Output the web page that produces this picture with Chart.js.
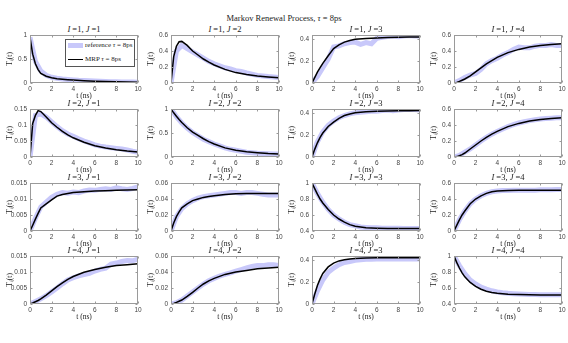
<!DOCTYPE html>
<html lang="en">
<head>
  <meta charset="UTF-8" />
  <title>Markov Renewal Process</title>
  <script src="https://cdn.jsdelivr.net/npm/chart.js"></script>
  <style>
    body {
      margin: 0;
      background: #fff;
      width: 568px;
      height: 343px;
      position: relative;
      overflow: hidden;
      font-family: 'Liberation Serif', serif;
      color: #222;
    }
    .main-title {
      position: absolute;
      left: 0;
      top: 13px;
      width: 568px;
      text-align: center;
      font-size: 8.5px;
      line-height: 10px;
    }
    .sub-title {
      position: absolute;
      width: 108px;
      text-align: center;
      font-size: 8.5px;
      line-height: 9px;
      white-space: nowrap;
    }
    canvas { position: absolute; }
    .legend {
      position: absolute;
      left: 65px;
      top: 39px;
      width: 68px;
      height: 26px;
      border: 1px solid #555;
      background: #fff;
      font-size: 7px;
      z-index: 2;
    }
    .legend .row {
      position: absolute;
      left: 2px;
      height: 8px;
      line-height: 8px;
      white-space: nowrap;
    }
    .legend .swatch {
      display: inline-block;
      width: 15px;
      vertical-align: middle;
      margin-right: 2px;
    }
  </style>
</head>
<body>

  <div class="main-title">Markov Renewal Process, <i>τ</i> = 8ps</div>
  <div id="grid"></div>

  <div class="legend">
    <div class="row" style="top:1px"><span class="swatch" style="height:5px;background:#c8c8fa"></span>reference <i>τ</i> = 8ps</div>
    <div class="row" style="top:15px"><span class="swatch" style="height:1.5px;background:#000"></span>MRP <i>τ</i> = 8ps</div>
  </div>

  <script>
    // time grids (ns)
    const tRef = [0,0.5,1,1.5,2,2.5,3,3.5,4,4.5,5,5.5,6,6.5,7,7.5,8,8.5,9,9.5,10];
    const tMrp = [0,0.25,0.5,0.75,1,1.5,2,2.5,3,3.5,4,5,6,7,8,9,10];
    const xTicks = [0,2,4,6,8,10];

    // y tick sets
    const ticksUnit = [0,0.5,1];
    const ticks06 = [0,0.2,0.4,0.6];
    const ticks044 = [0,0.2,0.4];
    const ticks015 = [0,0.05,0.1,0.15];
    const ticks0015 = [0,0.005,0.01,0.015];
    const ticks006 = [0,0.02,0.04,0.06];
    const ticksHigh = [0.4,0.6,0.8,1];

    // row I = 1
    const ref11 = [0.95,0.45,0.25,0.16,0.12,0.1,0.085,0.075,0.065,0.056,0.05,0.045,0.04,0.035,0.031,0.028,0.025,0.022,0.02,0.02,0.018];
    const mrp11 = [0.95,0.6,0.4,0.28,0.2,0.14,0.11,0.09,0.078,0.068,0.06,0.048,0.038,0.03,0.024,0.019,0.015];
    const ref12 = [0,0.4,0.47,0.43,0.39,0.35,0.31,0.27,0.24,0.215,0.19,0.175,0.155,0.145,0.125,0.11,0.095,0.088,0.08,0.075,0.068];
    const mrp12 = [0,0.33,0.46,0.515,0.52,0.47,0.4,0.35,0.3,0.26,0.225,0.17,0.13,0.105,0.088,0.075,0.065];
    const ref13 = [0,0.06,0.14,0.22,0.33,0.34,0.36,0.37,0.375,0.355,0.37,0.36,0.41,0.42,0.425,0.43,0.425,0.43,0.435,0.43,0.43];
    const mrp13 = [0,0.05,0.1,0.14,0.18,0.25,0.315,0.35,0.375,0.39,0.4,0.408,0.413,0.417,0.42,0.421,0.422];
    const ref14 = [0,0.03,0.07,0.1,0.12,0.17,0.24,0.28,0.31,0.35,0.38,0.42,0.45,0.44,0.44,0.46,0.47,0.47,0.48,0.47,0.47];
    const mrp14 = [0,0.008,0.02,0.035,0.05,0.09,0.14,0.19,0.24,0.28,0.32,0.38,0.42,0.45,0.47,0.48,0.49];

    // row I = 2
    const ref21 = [0,0.13,0.135,0.125,0.11,0.095,0.082,0.072,0.065,0.057,0.05,0.044,0.038,0.034,0.031,0.029,0.027,0.025,0.022,0.018,0.015];
    const mrp21 = [0,0.105,0.13,0.145,0.142,0.125,0.107,0.093,0.08,0.069,0.06,0.046,0.035,0.028,0.023,0.019,0.016];
    const ref22 = [1,0.84,0.71,0.6,0.51,0.44,0.37,0.32,0.27,0.23,0.19,0.16,0.14,0.12,0.1,0.09,0.08,0.075,0.07,0.065,0.06];
    const mrp22 = [1,0.92,0.85,0.78,0.72,0.61,0.52,0.45,0.38,0.32,0.27,0.19,0.14,0.11,0.09,0.075,0.065];
    const ref23 = [0,0.14,0.23,0.29,0.33,0.36,0.38,0.395,0.405,0.41,0.415,0.42,0.42,0.425,0.43,0.425,0.43,0.435,0.435,0.435,0.43];
    const mrp23 = [0,0.07,0.13,0.18,0.22,0.28,0.32,0.355,0.38,0.395,0.405,0.415,0.42,0.422,0.424,0.425,0.426];
    const ref24 = [0,0.02,0.06,0.1,0.15,0.2,0.245,0.285,0.32,0.35,0.38,0.405,0.425,0.44,0.455,0.465,0.475,0.48,0.485,0.49,0.49];
    const mrp24 = [0,0.005,0.015,0.03,0.05,0.1,0.15,0.2,0.245,0.285,0.32,0.38,0.42,0.45,0.47,0.48,0.49];

    // row I = 3
    const ref31 = [0,0.004,0.0075,0.009,0.0105,0.0115,0.012,0.0118,0.0122,0.012,0.0125,0.0128,0.0127,0.013,0.0132,0.013,0.0135,0.0132,0.013,0.0133,0.0138];
    const mrp31 = [0,0.0018,0.0037,0.0055,0.0072,0.0085,0.0097,0.0109,0.0114,0.0117,0.012,0.0123,0.0125,0.0126,0.0127,0.0128,0.0129];
    const ref32 = [0,0.018,0.028,0.034,0.038,0.041,0.043,0.044,0.045,0.046,0.047,0.048,0.048,0.047,0.048,0.048,0.047,0.046,0.045,0.045,0.045];
    const mrp32 = [0,0.01,0.018,0.024,0.029,0.034,0.038,0.04,0.042,0.043,0.044,0.0455,0.0465,0.047,0.047,0.047,0.047];
    const ref33 = [1,0.87,0.76,0.67,0.6,0.55,0.51,0.48,0.465,0.45,0.445,0.44,0.44,0.435,0.435,0.435,0.435,0.432,0.432,0.432,0.43];
    const mrp33 = [1,0.93,0.86,0.8,0.75,0.67,0.6,0.55,0.51,0.48,0.46,0.44,0.435,0.432,0.43,0.43,0.43];
    const ref34 = [0,0.14,0.25,0.34,0.4,0.44,0.47,0.49,0.5,0.505,0.505,0.51,0.51,0.51,0.51,0.51,0.515,0.515,0.515,0.52,0.52];
    const mrp34 = [0,0.07,0.14,0.2,0.25,0.34,0.4,0.44,0.47,0.49,0.5,0.505,0.51,0.51,0.51,0.51,0.51];

    // row I = 4
    const ref41 = [0,0.0008,0.0016,0.0026,0.0038,0.005,0.0063,0.0075,0.0082,0.0088,0.0092,0.0096,0.0103,0.0108,0.0112,0.0125,0.0128,0.0133,0.0136,0.0135,0.014];
    const mrp41 = [0,0.0003,0.0007,0.0011,0.0016,0.0028,0.0041,0.0054,0.0066,0.0077,0.0086,0.0099,0.0108,0.0115,0.012,0.0123,0.0126];
    const ref42 = [0,0.0015,0.005,0.01,0.015,0.02,0.025,0.029,0.032,0.035,0.037,0.039,0.041,0.043,0.045,0.047,0.048,0.048,0.049,0.049,0.048];
    const mrp42 = [0,0.0008,0.002,0.0035,0.005,0.0095,0.0145,0.02,0.025,0.029,0.032,0.037,0.04,0.042,0.044,0.045,0.046];
    const ref43 = [0,0.12,0.22,0.29,0.33,0.36,0.38,0.39,0.4,0.405,0.41,0.41,0.412,0.412,0.413,0.413,0.413,0.413,0.413,0.413,0.413];
    const mrp43 = [0,0.09,0.17,0.23,0.28,0.34,0.375,0.395,0.405,0.412,0.417,0.421,0.423,0.424,0.425,0.425,0.425];
    const ref44 = [1,0.88,0.78,0.7,0.65,0.61,0.585,0.565,0.55,0.54,0.533,0.528,0.524,0.521,0.519,0.518,0.517,0.516,0.515,0.515,0.515];
    const mrp44 = [1,0.92,0.85,0.79,0.74,0.67,0.62,0.585,0.56,0.545,0.535,0.523,0.518,0.515,0.513,0.512,0.511];

    const panels = [
      {I:1, J:1, ref:ref11, mrp:mrp11, ticks:ticksUnit, min:0, max:1},
      {I:1, J:2, ref:ref12, mrp:mrp12, ticks:ticks06, min:0, max:0.6},
      {I:1, J:3, ref:ref13, mrp:mrp13, ticks:ticks044, min:0, max:0.44},
      {I:1, J:4, ref:ref14, mrp:mrp14, ticks:ticks06, min:0, max:0.6},
      {I:2, J:1, ref:ref21, mrp:mrp21, ticks:ticks015, min:0, max:0.15},
      {I:2, J:2, ref:ref22, mrp:mrp22, ticks:ticksUnit, min:0, max:1},
      {I:2, J:3, ref:ref23, mrp:mrp23, ticks:ticks044, min:0, max:0.44},
      {I:2, J:4, ref:ref24, mrp:mrp24, ticks:ticks06, min:0, max:0.6},
      {I:3, J:1, ref:ref31, mrp:mrp31, ticks:ticks0015, min:0, max:0.015},
      {I:3, J:2, ref:ref32, mrp:mrp32, ticks:ticks006, min:0, max:0.06},
      {I:3, J:3, ref:ref33, mrp:mrp33, ticks:ticksHigh, min:0.4, max:1},
      {I:3, J:4, ref:ref34, mrp:mrp34, ticks:ticks06, min:0, max:0.6},
      {I:4, J:1, ref:ref41, mrp:mrp41, ticks:ticks0015, min:0, max:0.015},
      {I:4, J:2, ref:ref42, mrp:mrp42, ticks:ticks006, min:0, max:0.06},
      {I:4, J:3, ref:ref43, mrp:mrp43, ticks:ticks044, min:0, max:0.44},
      {I:4, J:4, ref:ref44, mrp:mrp44, ticks:ticksHigh, min:0.4, max:1}
    ];

    // plot area geometry (px)
    const colLeft = [30, 171, 312, 454];
    const rowTop = [35, 109, 183, 256];
    const plotW = 108, plotH = 48;
    const yAxisW = 26, xAxisH = 18, padTop = 6, padRight = 8;

    const tickFont = {family: "'Liberation Sans', Arial, sans-serif", size: 6.5};
    const labelFont = {family: "'Liberation Serif', serif", size: 7.5};

    // frame + inward tick marks, like a matlab box
    const boxPlugin = {
      id: 'box',
      afterDatasetsDraw(chart) {
        const {ctx, chartArea: a, scales: {x, y}} = chart;
        ctx.save();
        ctx.strokeStyle = '#9a9a9a';
        ctx.lineWidth = 1;
        const l = Math.round(a.left) + 0.5, r = Math.round(a.right) - 0.5;
        const t = Math.round(a.top) + 0.5, b = Math.round(a.bottom) - 0.5;
        ctx.strokeRect(l, t, r - l, b - t);
        ctx.beginPath();
        x.ticks.forEach(tk => {
          const px = Math.round(x.getPixelForValue(tk.value)) + 0.5;
          ctx.moveTo(px, b); ctx.lineTo(px, b - 2);
          ctx.moveTo(px, t); ctx.lineTo(px, t + 2);
        });
        y.ticks.forEach(tk => {
          const py = Math.round(y.getPixelForValue(tk.value)) + 0.5;
          ctx.moveTo(l, py); ctx.lineTo(l + 2, py);
          ctx.moveTo(r, py); ctx.lineTo(r - 2, py);
        });
        ctx.stroke();
        ctx.restore();
      }
    };

    const grid = document.getElementById('grid');

    panels.forEach(p => {
      const L = colLeft[p.J - 1], T = rowTop[p.I - 1];

      const title = document.createElement('div');
      title.className = 'sub-title';
      title.style.left = L + 'px';
      title.style.top = (T - 10) + 'px';
      title.innerHTML = '<i>I</i> =' + p.I + ', <i>J</i> =' + p.J;
      grid.appendChild(title);

      const cv = document.createElement('canvas');
      cv.width = yAxisW + plotW + padRight;
      cv.height = padTop + plotH + xAxisH;
      cv.style.left = (L - yAxisW) + 'px';
      cv.style.top = (T - padTop) + 'px';
      grid.appendChild(cv);

      new Chart(cv, {
        type: 'line',
        data: {
          datasets: [
            {
              label: 'reference τ = 8ps',
              data: tRef.map((t, i) => ({x: t, y: p.ref[i]})),
              borderColor: '#c8c8fa',
              borderWidth: 5,
              pointRadius: 0,
              order: 2
            },
            {
              label: 'MRP τ = 8ps',
              data: tMrp.map((t, i) => ({x: t, y: p.mrp[i]})),
              borderColor: '#000',
              borderWidth: 1.5,
              pointRadius: 0,
              order: 1
            }
          ]
        },
        options: {
          responsive: false,
          animation: false,
          events: [],
          layout: {padding: {top: padTop, right: padRight, bottom: 0, left: 0}},
          plugins: {legend: {display: false}, tooltip: {enabled: false}},
          scales: {
            x: {
              type: 'linear',
              min: 0,
              max: 10,
              afterBuildTicks: ax => { ax.ticks = xTicks.map(v => ({value: v})); },
              afterFit: s => { s.height = xAxisH; s.paddingLeft = 0; s.paddingRight = 0; },
              ticks: {font: tickFont, color: '#444', padding: 2, maxRotation: 0, callback: v => String(v)},
              grid: {display: false, drawTicks: false},
              border: {display: false},
              title: {display: true, text: 't (ns)', font: labelFont, color: '#222', padding: {top: 0, bottom: 0}}
            },
            y: {
              min: p.min,
              max: p.max,
              afterBuildTicks: ax => { ax.ticks = p.ticks.map(v => ({value: v})); },
              afterFit: s => { s.width = yAxisW; s.paddingTop = 0; s.paddingBottom = 0; },
              ticks: {font: tickFont, color: '#444', padding: 3, callback: v => String(v)},
              grid: {display: false, drawTicks: false},
              border: {display: false},
              title: {display: true, text: 'Tᵢⱼ(t)', font: labelFont, color: '#222', padding: {top: 2, bottom: 0}}
            }
          }
        },
        plugins: [boxPlugin]
      });
    });
  </script>
</body>
</html>
